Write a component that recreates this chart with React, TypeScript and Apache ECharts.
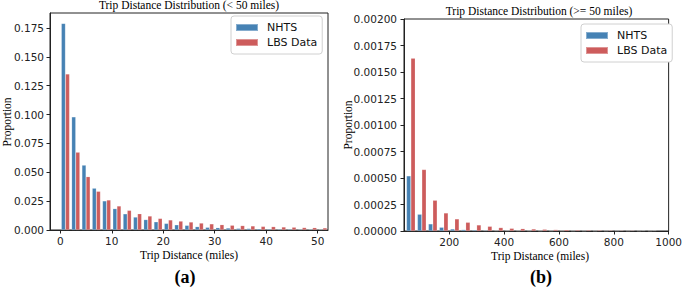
import React, { useEffect, useRef } from "react";
import * as echarts from "echarts";

// ---- Data ----
const leftBinCenters = [1, 3, 5, 7, 9, 11, 13, 15, 17, 19, 21, 23, 25, 27, 29, 31, 33, 35, 37, 39, 41, 43, 45, 47, 49, 51];
const leftNHTS = [0.179, 0.098, 0.0562, 0.0362, 0.0252, 0.0185, 0.014, 0.0112, 0.009, 0.0071, 0.0057, 0.0045, 0.004, 0.0029, 0.0023, 0.002, 0.0017, 0.0014, 0.0013, 0.0011, 0.0009, 0.0008, 0.0008, 0.0006, 0.0006, 0.0005];
const leftLBS = [0.1352, 0.0674, 0.0462, 0.0335, 0.026, 0.0208, 0.017, 0.0141, 0.0121, 0.01, 0.0087, 0.0077, 0.0069, 0.006, 0.0053, 0.0046, 0.0041, 0.0038, 0.0035, 0.0031, 0.0029, 0.0026, 0.0024, 0.0021, 0.002, 0.0018];

const rightBinCenters = [60, 100, 140, 180, 220, 260, 300, 340, 380, 420, 460, 500, 540, 580, 620, 660, 700, 740, 780, 820, 860, 900, 940];
const rightNHTS = [0.00052, 0.000158, 0.000067, 0.000035, 0.000019, 0.000013, 0.0000095, 0.0000063, 0.000004, 0.000003, 0.0000025, 0.000002, 0.0000015, 0.0000015, 0.000001, 0.000001, 0.0000008, 0.0000008, 0.0000006, 0.0000006, 0.0000005, 0.0000005, 0.0000004];
const rightLBS = [0.00163, 0.00058, 0.00029, 0.00017, 0.000114, 0.000082, 0.000057, 0.000044, 0.000032, 0.000025, 0.000022, 0.000019, 0.000016, 0.000013, 0.000012, 0.00001, 0.000009, 0.000008, 0.000007, 0.000006, 0.000006, 0.000005, 0.000005];

const leftXTicks = [0, 10, 20, 30, 40, 50];
const leftYTicks = [0, 0.025, 0.05, 0.075, 0.1, 0.125, 0.15, 0.175];
const rightXTicks = [200, 400, 600, 800, 1000];
const rightYTicks = [0, 0.00025, 0.0005, 0.00075, 0.001, 0.00125, 0.0015, 0.00175, 0.002];

const seriesNames = ["NHTS", "LBS Data"];
const titles = ["Trip Distance Distribution (< 50 miles)", "Trip Distance Distribution (>= 50 miles)"];
const xName = "Trip Distance (miles)";
const yName = "Proportion";
const panelLabels = ["(a)", "(b)"];

const BLUE = "#4682b4";
const RED = "#cd5c5c";
const INK = "#222";
const SANS = "DejaVu Sans";
const SERIF = "Liberation Serif";

function valueAxis(gridIndex: number, min: number, max: number, ticks: number[], fmt: (v: number) => string, margin: number) {
  return {
    type: "value",
    gridIndex,
    min,
    max,
    splitLine: { show: false },
    axisLine: { show: true, onZero: false, lineStyle: { color: INK, width: 1 } },
    axisTick: { show: true, length: 3.5, lineStyle: { color: INK, width: 1 }, customValues: ticks },
    axisLabel: {
      customValues: ticks,
      formatter: (v: number) => fmt(v),
      fontSize: 10.5,
      color: INK,
      fontFamily: SANS,
      margin,
    },
  } as any;
}

function barSeries(name: string, idx: number, centers: number[], vals: number[], color: string) {
  return {
    type: "bar",
    name,
    xAxisIndex: idx,
    yAxisIndex: idx,
    data: centers.map((c, i) => [c, vals[i]]),
    barWidth: "40%",
    barGap: "0%",
    itemStyle: { color, borderColor: "rgba(255,255,255,0.35)", borderWidth: 0.5 },
  };
}

function legend(left: number, top: number) {
  return {
    data: seriesNames,
    orient: "vertical",
    left,
    top,
    icon: "rect",
    itemWidth: 22,
    itemHeight: 7,
    itemGap: 2,
    padding: [5, 5, 5, 4],
    backgroundColor: "#fff",
    borderColor: "#d0d0d0",
    borderWidth: 1,
    borderRadius: 3,
    selectedMode: false,
    textStyle: { fontFamily: SANS, fontSize: 11, color: "#111", lineHeight: 13, padding: [0, 0, 0, 4] },
  } as any;
}

function txt(text: string, x: number, y: number, font: string, rotation = 0) {
  return {
    type: "text",
    x,
    y,
    rotation,
    style: { text, font, fill: "#000", textAlign: "center", textVerticalAlign: "middle" },
    silent: true,
  } as any;
}

export default function App() {
  const ref = useRef<HTMLDivElement>(null);
  useEffect(() => {
    document.body.style.margin = "0";
    if (!ref.current) return;
    const chart = echarts.init(ref.current, null, { renderer: "svg" });
    chart.setOption({
      animation: false,
      backgroundColor: "#fff",
      grid: [
        { left: 50, right: 357, top: 13, bottom: 57, show: true, borderColor: INK, borderWidth: 1, containLabel: false },
        { left: 404, right: 12, top: 19, bottom: 56, show: true, borderColor: INK, borderWidth: 1, containLabel: false },
      ],
      xAxis: [
        valueAxis(0, -2, 52, leftXTicks, (v) => String(v), 5),
        valueAxis(1, 35, 1000, rightXTicks, (v) => String(v), 5),
      ],
      yAxis: [
        valueAxis(0, 0, 0.188, leftYTicks, (v) => v.toFixed(3), 6),
        valueAxis(1, 0, 0.002, rightYTicks, (v) => v.toFixed(5), 7),
      ],
      legend: [legend(231, 16), legend(581, 24)],
      series: [
        barSeries(seriesNames[0], 0, leftBinCenters, leftNHTS, BLUE),
        barSeries(seriesNames[1], 0, leftBinCenters, leftLBS, RED),
        barSeries(seriesNames[0], 1, rightBinCenters, rightNHTS, BLUE),
        barSeries(seriesNames[1], 1, rightBinCenters, rightLBS, RED),
      ],
      graphic: [
        txt(titles[0], 189, 5, `11.5px "${SERIF}"`),
        txt(titles[1], 539, 11, `11.5px "${SERIF}"`),
        txt(xName, 189, 255, `11.5px "${SERIF}"`),
        txt(xName, 540, 256, `11.5px "${SERIF}"`),
        txt(yName, 7, 122, `11.5px "${SERIF}"`, Math.PI / 2),
        txt(yName, 348, 125, `11.5px "${SERIF}"`, Math.PI / 2),
        txt(panelLabels[0], 185, 277, `bold 18px "${SERIF}"`),
        txt(panelLabels[1], 541, 277, `bold 18px "${SERIF}"`),
      ],
    });
    return () => chart.dispose();
  }, []);
  return <div ref={ref} style={{ width: 685, height: 287 }} />;
}
